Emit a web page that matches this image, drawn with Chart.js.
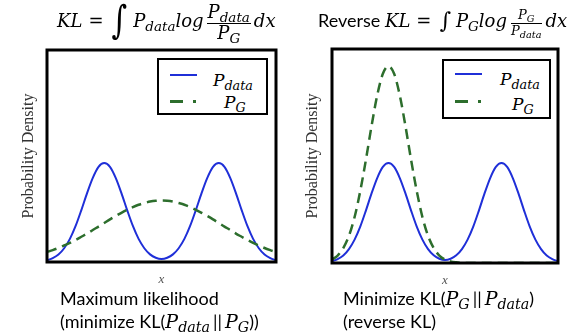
<!DOCTYPE html>
<html>
<head>
<meta charset="utf-8">
<script src="https://cdn.jsdelivr.net/npm/chart.js@4.4.1/dist/chart.umd.min.js"></script>
<style>
  html, body { margin: 0; padding: 0; background: #fff; }
  body { width: 584px; height: 332px; position: relative; overflow: hidden; color: #000; }
  .panel { position: absolute; top: 0; width: 292px; height: 332px; }
  .mi { font-family: 'DejaVu Serif', serif; font-style: italic; }
  .sans { font-family: 'Lato', sans-serif; }
  sub { font-size: 75%; vertical-align: -0.3em; line-height: 0; }
  .title { position: absolute; white-space: nowrap; font-size: 18px; line-height: 42px; height: 42px; }
  .title .op { font-family: 'DejaVu Serif', serif; padding: 0 6px; }
  .title .int { font-family: 'DejaVu Serif', serif; display: inline-block; font-size: 30px; transform: scaleY(1.3); padding: 0 6px 0 2px; vertical-align: -3px; }
  .title .int.small { font-size: 22px; transform: none; padding: 0 5px 0 2px; vertical-align: -1px; }
  .frac { display: inline-flex; flex-direction: column; vertical-align: middle; text-align: center; line-height: 1.05; margin: 0 3px; }
  .frac > span:first-child { border-bottom: 1px solid #000; padding: 0 1px 1px; }
  .frac.small { font-size: 13px; margin: 0 4px; }
  .legend { position: absolute; border: 2px solid #000; background: #fff; }
  .legend .s { position: absolute; }
  .legend .lab { position: absolute; font-size: 17px; line-height: 20px; white-space: nowrap; }
  .caption { position: absolute; font-size: 18px; line-height: 23px; white-space: nowrap; }
  .caption .mi { font-size: 19px; }
  .caption .bar { padding: 0 3px; }
</style>
</head>
<body>

<div class="panel" style="left:0"><canvas id="klChart" width="292" height="332"></canvas></div>
<div class="panel" style="left:292px"><canvas id="reverseChart" width="292" height="332"></canvas></div>

<!-- titles -->
<div class="title" style="left:57px; top:-1px">
  <span class="mi">KL</span><span class="op">=</span><span class="int">∫</span><span class="mi">P<sub>data</sub>log</span><span class="frac mi"><span>P<sub>data</sub></span><span>P<sub>G</sub></span></span><span class="mi">dx</span>
</div>
<div class="title" style="left:318px; top:-1px">
  <span class="sans" style="font-size:18px">Reverse </span><span class="mi">KL</span><span class="op">=</span><span class="int small">∫</span><span class="mi">P<sub>G</sub>log</span><span class="frac small mi"><span>P<sub>G</sub></span><span>P<sub>data</sub></span></span><span class="mi">dx</span>
</div>

<!-- legends -->
<div class="legend" style="left:157px; top:58px; width:107px; height:53px">
  <div class="s" style="left:11px; top:14px; width:27px; height:2px; background:#1f2fd8"></div>
  <div class="lab mi" style="left:54px; top:10px">P<sub>data</sub></div>
  <div class="s" style="left:11px; top:40px; width:13px; height:3px; background:#2d6e2d"></div>
  <div class="s" style="left:34px; top:40px; width:3px; height:3px; background:#2d6e2d"></div>
  <div class="lab mi" style="left:65px; top:32px">P<sub>G</sub></div>
</div>
<div class="legend" style="left:442px; top:59px; width:105px; height:56px">
  <div class="s" style="left:11px; top:12px; width:27px; height:2px; background:#1f2fd8"></div>
  <div class="lab mi" style="left:56px; top:8px">P<sub>data</sub></div>
  <div class="s" style="left:11px; top:39px; width:13px; height:3px; background:#2d6e2d"></div>
  <div class="s" style="left:34px; top:39px; width:3px; height:3px; background:#2d6e2d"></div>
  <div class="lab mi" style="left:68px; top:33px">P<sub>G</sub></div>
</div>

<!-- captions -->
<div class="caption sans" style="left:60px; top:287px">
  Maximum likelihood<br>(minimize KL(<span class="mi">P<sub>data</sub></span><span class="bar">||</span><span class="mi">P<sub>G</sub></span>))
</div>
<div class="caption sans" style="left:343px; top:287px">
  Minimize KL(<span class="mi">P<sub>G</sub></span><span class="bar">||</span><span class="mi">P<sub>data</sub></span>)<br>(reverse KL)
</div>

<script>

// ============================
// DATA (y as share of plot height)
// ============================

const xs = [
    0, 0.025, 0.05, 0.075, 0.1, 0.125, 0.15, 0.175, 0.2, 0.225,
    0.25, 0.275, 0.3, 0.325, 0.35, 0.375, 0.4, 0.425, 0.45, 0.475,
    0.5, 0.525, 0.55, 0.575, 0.6, 0.625, 0.65, 0.675, 0.7, 0.725,
    0.75, 0.775, 0.8, 0.825, 0.85, 0.875, 0.9, 0.925, 0.95, 0.975, 1
];

// two bumps, same in both panels
const pData = [
    0.008, 0.018, 0.035, 0.065, 0.109, 0.170, 0.245, 0.325, 0.397, 0.449,
    0.467, 0.449, 0.397, 0.325, 0.245, 0.170, 0.109, 0.065, 0.036, 0.020,
    0.014, 0.020, 0.036, 0.065, 0.109, 0.170, 0.245, 0.325, 0.397, 0.449,
    0.467, 0.449, 0.397, 0.325, 0.245, 0.170, 0.109, 0.065, 0.035, 0.018, 0.008
];

// wide model (max likelihood)
const pGWide = [
    0.047, 0.056, 0.066, 0.078, 0.090, 0.104, 0.119, 0.134, 0.151, 0.167,
    0.184, 0.201, 0.217, 0.232, 0.246, 0.259, 0.270, 0.278, 0.285, 0.289,
    0.290, 0.289, 0.285, 0.278, 0.270, 0.259, 0.246, 0.232, 0.217, 0.201,
    0.184, 0.167, 0.151, 0.134, 0.119, 0.104, 0.090, 0.078, 0.066, 0.056, 0.047
];

// one mode (reverse KL)
const pGMode = [
    0.016, 0.035, 0.070, 0.127, 0.215, 0.336, 0.482, 0.640, 0.783, 0.884,
    0.920, 0.884, 0.783, 0.640, 0.482, 0.336, 0.215, 0.127, 0.070, 0.035,
    0.016, 0.007, 0.003, 0.001, 0, 0, 0, 0, 0, 0,
    0, 0, 0, 0, 0, 0, 0, 0, 0, 0, 0
];

const BLUE = '#1f2fd8';
const GREEN = '#2d6e2d';


// black box round the plot area
const framePlugin = {
    id: 'frame',
    afterDatasetsDraw(chart) {
        const { ctx, chartArea: a } = chart;
        ctx.save();
        ctx.strokeStyle = '#000';
        ctx.lineWidth = 3;
        ctx.strokeRect(a.left, a.top, a.right - a.left, a.bottom - a.top);
        ctx.restore();
    }
};


function makeChart(id, pG, g) {

    new Chart(document.getElementById(id).getContext('2d'), {

        type: 'line',

        data: {
            labels: xs,
            datasets: [
                {
                    label: 'P_data',
                    data: pData,
                    borderColor: BLUE,
                    borderWidth: 2,
                    pointRadius: 0,
                    cubicInterpolationMode: 'monotone',
                    order: 1
                },
                {
                    label: 'P_G',
                    data: pG,
                    borderColor: GREEN,
                    borderWidth: 2.5,
                    borderDash: [10, 6],
                    pointRadius: 0,
                    cubicInterpolationMode: 'monotone',
                    order: 0
                }
            ]
        },

        options: {
            responsive: false,
            animation: false,
            devicePixelRatio: 1,
            layout: {
                padding: { left: 0, top: g.top, right: g.right, bottom: 0 }
            },
            plugins: {
                legend: { display: false },
                tooltip: { enabled: false }
            },
            scales: {
                x: {
                    ticks: { display: false },
                    grid: { display: false },
                    border: { display: false },
                    title: {
                        display: true,
                        text: 'x',
                        color: '#555',
                        font: { family: 'Liberation Serif', style: 'italic', size: 13 },
                        padding: { top: 0, bottom: g.xPad }
                    },
                    afterFit: s => { s.height = g.xAxis; }
                },
                y: {
                    min: 0,
                    max: 1,
                    ticks: { display: false },
                    grid: { display: false },
                    border: { display: false },
                    title: {
                        display: true,
                        text: 'Probability Density',
                        color: '#333',
                        font: { family: 'Liberation Serif', size: 16 },
                        padding: { top: g.yPad, bottom: 0 }
                    },
                    afterFit: s => { s.width = g.yAxis; }
                }
            }
        },

        plugins: [framePlugin]
    });
}


makeChart('klChart', pGWide, { top: 50, right: 16, yAxis: 47, xAxis: 70, yPad: 19, xPad: 45 });

makeChart('reverseChart', pGMode, { top: 49, right: 26, yAxis: 40, xAxis: 69, yPad: 11, xPad: 44 });

</script>
</body>
</html>
